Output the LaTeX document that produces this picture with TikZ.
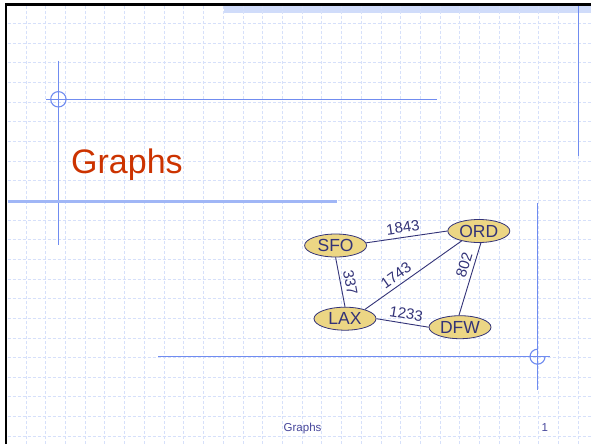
\documentclass[tikz,border=0pt]{standalone}
\usepackage{fontspec}
\setmainfont{Liberation Sans}
\usetikzlibrary{shapes.geometric}

\definecolor{gridblue}{RGB}{214,224,250}
\definecolor{rulerblue}{RGB}{112,140,240}
\definecolor{rulerlight}{RGB}{160,182,246}
\definecolor{bandblue}{RGB}{208,220,250}
\definecolor{titlered}{RGB}{204,51,0}
\definecolor{navy}{RGB}{51,51,120}
\definecolor{footnavy}{RGB}{70,70,155}
\definecolor{cityfill}{RGB}{236,214,132}

\begin{document}
\begin{tikzpicture}[x=1pt,y=-1pt,
  city/.style={ellipse, draw=navy, line width=0.8pt, fill=cityfill,
    minimum width=62pt, minimum height=23pt, inner sep=0pt,
    text=navy, font=\fontsize{17.5}{17.5}\selectfont},
  road/.style={draw=navy, line width=0.9pt},
  dist/.style={sloped, anchor=south, inner sep=4pt, text=navy,
    font=\fontsize{15}{15}\selectfont},
  ruler/.style={rulerblue, line width=1.1pt},
  gridline/.style={gridblue, line width=0.8pt, dash pattern=on 3pt off 2pt},
  plaintext/.style={anchor=base west, inner sep=0pt}]

\useasboundingbox (0,0) rectangle (591,444);
\fill[white] (0,0) rectangle (591,444);

% header band
\fill[bandblue] (224,6) rectangle (591,12.7);

% dashed background grid
\foreach \k in {0,...,28}
  \draw[gridline] ({26+19.72*\k},6) -- ({26+19.72*\k},444);
\foreach \k in {0,...,21}
  \draw[gridline] (7.5,{23.5+19.65*\k}) -- (591,{23.5+19.65*\k});

% slide frame (top and left edges)
\draw[black, line width=2.5pt, line join=miter] (6.2,444) -- (6.2,4.7) -- (591,4.7);

% blueprint rulers
\draw[ruler] (58.4,60.7) -- (58.4,245);
\draw[ruler] (46,99.3) -- (437,99.3);
\draw[ruler] (58.4,99.3) circle[radius=7.7];
\draw[ruler] (578.4,6) -- (578.4,156);
\draw[rulerlight, line width=2.4pt] (7.5,201.6) -- (336.7,201.6);
\draw[ruler] (537.5,203) -- (537.5,390);
\draw[ruler] (158,356.7) -- (549.6,356.7);
\draw[ruler] (545,356.7) arc[start angle=0, end angle=270, radius=7.5];

% title
\node[plaintext, text=titlered, font=\fontsize{34}{34}\selectfont] (title) at (71,173.3) {Graphs};

% airports
\node[city] (SFO) at (335.6,245.5) {SFO};
\node[city] (ORD) at (478.8,231) {ORD};
\node[city] (LAX) at (345,318.7) {LAX};
\node[city] (DFW) at (460,327.2) {DFW};

% routes with distances
\draw[road] (SFO.5) -- node[dist,pos=0.47] (d1843) {1843} (ORD.west);
\draw[road] (SFO.south) -- node[dist,pos=0.55] (d337) {337} (LAX.north);
\draw[road] (LAX.25) -- node[dist,pos=0.38] (d1743) {1743} (ORD.210);
\draw[road] (DFW.95) -- node[dist,pos=0.66] (d802) {802} (ORD.-80);
\draw[road] (LAX.east) -- node[dist,pos=0.54] (d1233) {1233} (DFW.west);

% footer
\node[plaintext, text=footnavy, font=\fontsize{11.5}{11.5}\selectfont] (foot) at (283.5,431.7) {Graphs};
\node[plaintext, text=footnavy, font=\fontsize{11.5}{11.5}\selectfont] (pageno) at (541.5,431.7) {1};
\end{tikzpicture}
\end{document}
